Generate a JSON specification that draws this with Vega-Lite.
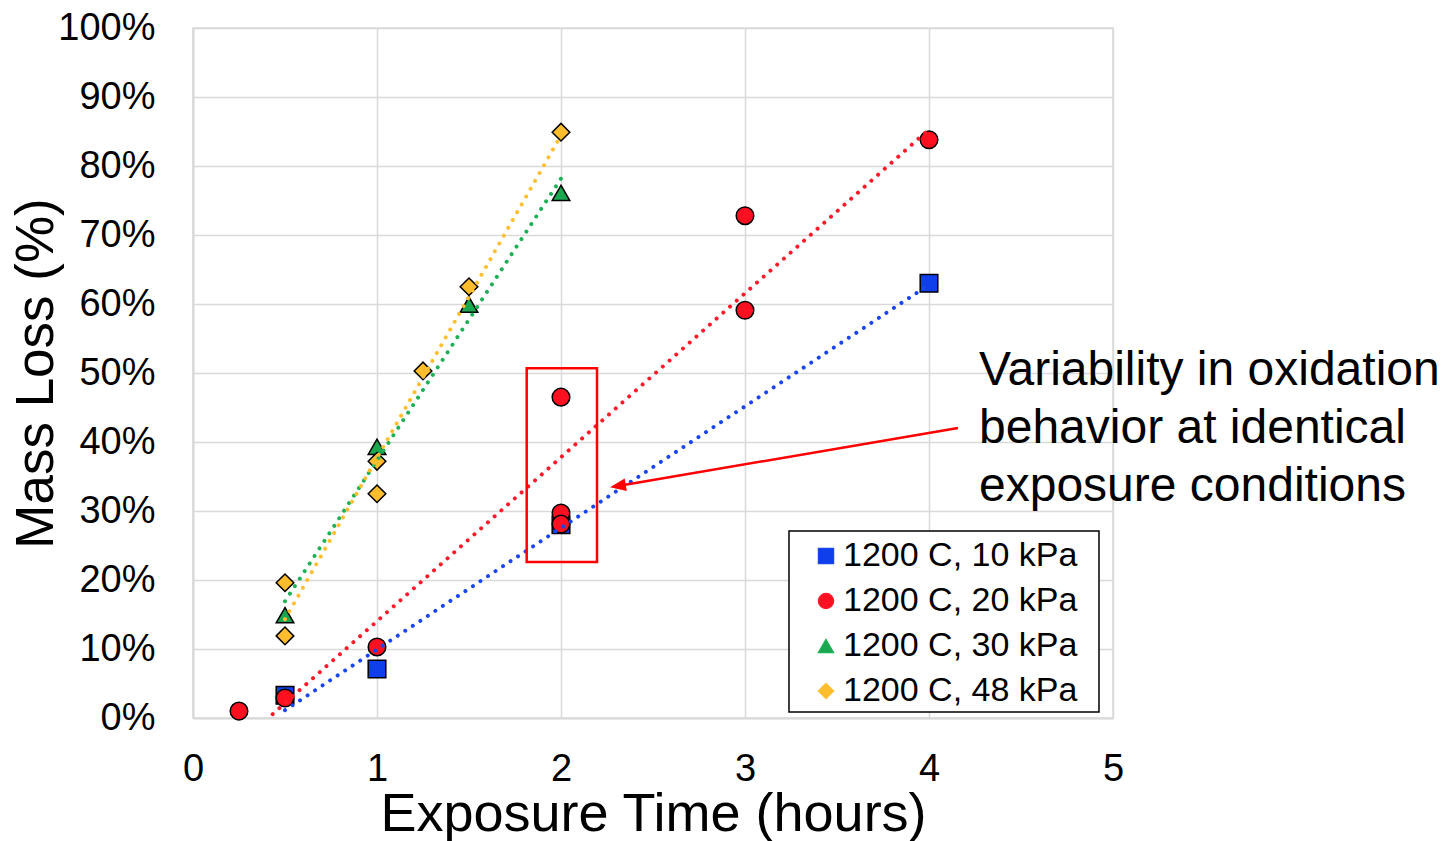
{
  "$schema": "https://vega.github.io/schema/vega-lite/v6.json",
  "autosize": {"type": "none"},
  "padding": {"left": 193, "top": 28, "right": 339, "bottom": 123},
  "width": 920,
  "height": 690,
  "background": "white",
  "config": {
    "font": "Liberation Sans",
    "view": {"stroke": "#D9D9D9", "strokeWidth": 1.5},
    "axis": {
      "labelFont": "Liberation Sans",
      "titleFont": "Liberation Sans",
      "labelColor": "black",
      "titleColor": "black",
      "titleFontWeight": "normal",
      "gridColor": "#D9D9D9",
      "gridWidth": 1.5,
      "domainColor": "#D9D9D9",
      "domainWidth": 2,
      "ticks": false,
      "tickSize": 0
    },
    "legend": {
      "labelFont": "Liberation Sans",
      "labelFontSize": 34,
      "labelColor": "black",
      "labelLimit": 500,
      "symbolSize": 230,
      "symbolStrokeWidth": 1.3,
      "padding": 8,
      "symbolOffset": 12,
      "labelOffset": 0,
      "rowPadding": 11
    }
  },
  "datasets": {
    "massloss": [
      {"time": 0.5, "loss": 3.3, "series": "1200 C, 10 kPa"},
      {"time": 1, "loss": 7.1, "series": "1200 C, 10 kPa"},
      {"time": 2, "loss": 28.0, "series": "1200 C, 10 kPa"},
      {"time": 4, "loss": 63.0, "series": "1200 C, 10 kPa"},
      {"time": 0.25, "loss": 1.0, "series": "1200 C, 20 kPa"},
      {"time": 0.5, "loss": 2.9, "series": "1200 C, 20 kPa"},
      {"time": 1, "loss": 10.3, "series": "1200 C, 20 kPa"},
      {"time": 2, "loss": 46.5, "series": "1200 C, 20 kPa"},
      {"time": 2, "loss": 29.7, "series": "1200 C, 20 kPa"},
      {"time": 2, "loss": 28.1, "series": "1200 C, 20 kPa"},
      {"time": 3, "loss": 72.8, "series": "1200 C, 20 kPa"},
      {"time": 3, "loss": 59.1, "series": "1200 C, 20 kPa"},
      {"time": 4, "loss": 83.8, "series": "1200 C, 20 kPa"},
      {"time": 0.5, "loss": 14.9, "series": "1200 C, 30 kPa"},
      {"time": 1, "loss": 39.3, "series": "1200 C, 30 kPa"},
      {"time": 1.5, "loss": 59.9, "series": "1200 C, 30 kPa"},
      {"time": 2, "loss": 76.1, "series": "1200 C, 30 kPa"},
      {"time": 0.5, "loss": 19.6, "series": "1200 C, 48 kPa"},
      {"time": 0.5, "loss": 11.9, "series": "1200 C, 48 kPa"},
      {"time": 1, "loss": 37.2, "series": "1200 C, 48 kPa"},
      {"time": 1, "loss": 32.5, "series": "1200 C, 48 kPa"},
      {"time": 1.25, "loss": 50.3, "series": "1200 C, 48 kPa"},
      {"time": 1.5, "loss": 62.5, "series": "1200 C, 48 kPa"},
      {"time": 2, "loss": 84.9, "series": "1200 C, 48 kPa"}
    ]
  },
  "layer": [
    {
      "data": {"name": "massloss"},
      "mark": {"type": "point", "filled": true, "opacity": 1, "size": 310, "stroke": "black", "strokeWidth": 1.5},
      "encoding": {
        "x": {
          "field": "time",
          "type": "quantitative",
          "scale": {"domain": [0, 5], "nice": false},
          "axis": {
            "values": [0, 1, 2, 3, 4, 5],
            "format": "d",
            "title": "Exposure Time (hours)",
            "titleFontSize": 54,
            "titleBaseline": "alphabetic",
            "titleY": 112,
            "labelFontSize": 38,
            "labelBaseline": "alphabetic",
            "labelPadding": 62,
            "labelFlush": false
          }
        },
        "y": {
          "field": "loss",
          "type": "quantitative",
          "scale": {"domain": [0, 100], "nice": false},
          "axis": {
            "values": [0, 10, 20, 30, 40, 50, 60, 70, 80, 90, 100],
            "labelExpr": "datum.value + '%'",
            "title": "Mass Loss (%)",
            "titleFontSize": 53,
            "titleBaseline": "alphabetic",
            "titleX": -141,
            "titleY": 345,
            "labelFontSize": 38,
            "labelPadding": 38,
            "labelBaseline": "middle"
          }
        },
        "color": {
          "field": "series",
          "type": "nominal",
          "scale": {
            "domain": ["1200 C, 10 kPa", "1200 C, 20 kPa", "1200 C, 30 kPa", "1200 C, 48 kPa"],
            "range": ["#0E3FEA", "#FF1020", "#1BA650", "#FDBD2C"]
          },
          "legend": {
            "orient": "none",
            "legendX": 596,
            "legendY": 503,
            "title": null,
            "encode": {
              "symbols": {"stroke": {"value": "black"}, "strokeWidth": {"value": 1.3}}
            }
          }
        },
        "shape": {
          "field": "series",
          "type": "nominal",
          "scale": {
            "domain": ["1200 C, 10 kPa", "1200 C, 20 kPa", "1200 C, 30 kPa", "1200 C, 48 kPa"],
            "range": ["square", "circle", "triangle-up", "diamond"]
          },
          "legend": {
            "orient": "none",
            "legendX": 596,
            "legendY": 503,
            "title": null,
            "encode": {
              "symbols": {"stroke": {"value": "black"}, "strokeWidth": {"value": 1.3}}
            }
          }
        }
      }
    },
    {
      "data": {"name": "massloss"},
      "transform": [
        {"regression": "loss", "on": "time", "groupby": ["series"]}
      ],
      "mark": {"type": "line", "clip": true, "strokeWidth": 4, "strokeDash": [0.01, 9], "strokeCap": "round"},
      "encoding": {
        "x": {"field": "time", "type": "quantitative"},
        "y": {"field": "loss", "type": "quantitative"},
        "stroke": {
          "field": "series",
          "type": "nominal",
          "scale": {
            "domain": ["1200 C, 10 kPa", "1200 C, 20 kPa", "1200 C, 30 kPa", "1200 C, 48 kPa"],
            "range": ["#1A45F2", "#FF1A2A", "#1DB055", "#FFBF30"]
          },
          "legend": null
        }
      }
    },
    {
      "data": {"values": [{}]},
      "mark": {"type": "rect", "fill": "white", "stroke": "black", "strokeWidth": 1.5},
      "encoding": {
        "x": {"datum": 3.2391, "type": "quantitative"},
        "x2": {"datum": 4.9239},
        "y": {"datum": 27.1, "type": "quantitative"},
        "y2": {"datum": 0.87}
      }
    },
    {
      "data": {"values": [{}]},
      "mark": {"type": "rect", "fill": null, "fillOpacity": 0, "stroke": "#FF0000", "strokeWidth": 2.5},
      "encoding": {
        "x": {"datum": 1.8136, "type": "quantitative"},
        "x2": {"datum": 2.1957},
        "y": {"datum": 50.7, "type": "quantitative"},
        "y2": {"datum": 22.6}
      }
    },
    {
      "data": {"values": [{}]},
      "mark": {"type": "rule", "stroke": "#FF0000", "strokeWidth": 2.5},
      "encoding": {
        "x": {"datum": 4.1576, "type": "quantitative"},
        "x2": {"datum": 2.3092},
        "y": {"datum": 42.03, "type": "quantitative"},
        "y2": {"datum": 33.62}
      }
    },
    {
      "data": {"values": [{}]},
      "mark": {
        "type": "point",
        "filled": true,
        "fill": "#FF0000",
        "opacity": 1,
        "shape": "M0,-1L0.8,1L-0.8,1Z",
        "size": 256,
        "angle": 260.4
      },
      "encoding": {
        "x": {"datum": 2.3092, "type": "quantitative"},
        "y": {"datum": 33.62, "type": "quantitative"}
      }
    },
    {
      "data": {"values": [{}]},
      "mark": {
        "type": "text",
        "text": ["Variability in oxidation", "behavior at identical", "exposure conditions"],
        "align": "left",
        "baseline": "alphabetic",
        "font": "Liberation Sans",
        "fontSize": 48,
        "lineHeight": 58,
        "color": "black"
      },
      "encoding": {
        "x": {"datum": 4.2717, "type": "quantitative"},
        "y": {"datum": 48.26, "type": "quantitative"}
      }
    }
  ]
}
